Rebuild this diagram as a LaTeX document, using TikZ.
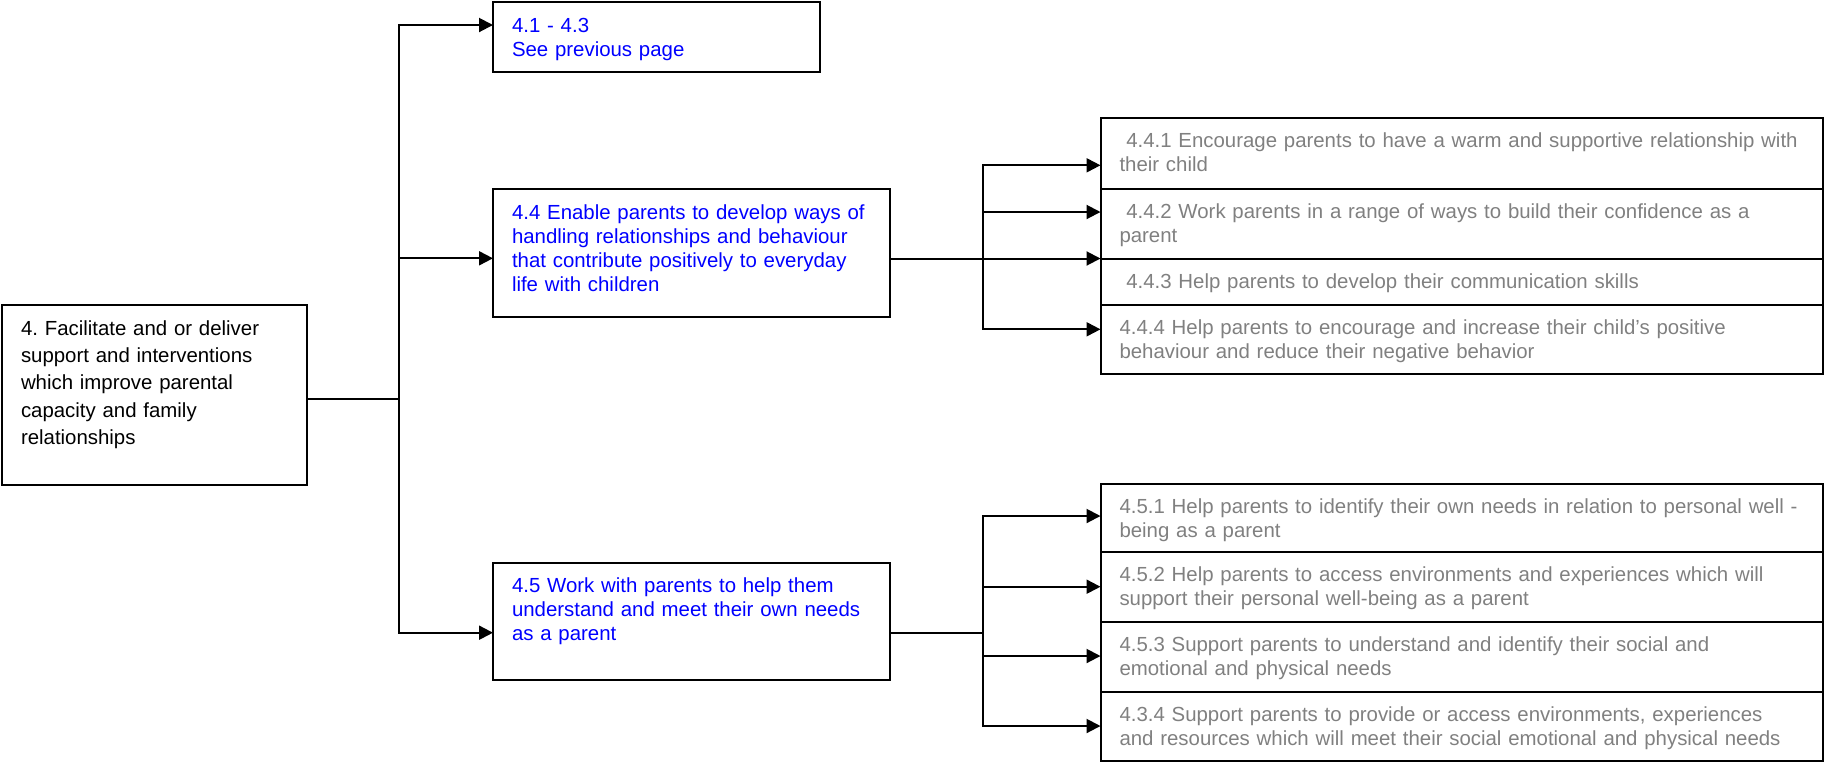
\documentclass[tikz,border=0pt]{standalone}
\usepackage{fontspec}
\setmainfont{Liberation Sans}
\usetikzlibrary{calc,arrows.meta}
\frenchspacing

\definecolor{aimblue}{RGB}{0,0,255}
\definecolor{taskgray}{RGB}{128,128,128}

\begin{document}
\begin{tikzpicture}[x=0.5pt, y=-0.5pt,
	box/.style={draw, line width=1pt, outer sep=0pt, anchor=north west, align=left,
		inner xsep=9.5pt, inner ysep=0pt, text height=15pt,
		font=\fontsize{10.2pt}{12pt}\selectfont,
		execute at begin node={\rightskip=-20pt plus 1fil\relax}},
	aimbox/.style={box, text=aimblue, text width=179.5pt},
	taskbox/.style={box, text=taskgray, text width=342.25pt, text height=14.75pt},
	link/.style={line width=1pt},
	arr/.style={line width=1pt, -{Triangle[length=7pt, width=7pt]}}
]

% parameters %{{{2

	\def\trunkx{399}
	\def\hubx{983}
	\def\taskx{1100.5}

	\useasboundingbox (0,0) rectangle (1824,762);

% main box %{{{2

	\node[box, text width=133.3pt, text depth=75pt,
		font=\fontsize{10.2pt}{13.7pt}\selectfont] (b4) at (2,305)
		{4. Facilitate and or deliver\\support and interventions\\which improve parental\\capacity and family\\relationships};

% aims %{{{2

	\node[aimbox, text width=144.5pt, text depth=20pt] (b41) at (493,2)
		{4.1 - 4.3\\See previous page};
	\node[aimbox, text depth=48.85pt] (b44) at (493,189)
		{4.4 Enable parents to develop ways of\\handling relationships and behaviour\\that contribute positively to everyday\\life with children};
	\node[aimbox, text depth=43.65pt] (b45) at (493,562.7)
		{4.5 Work with parents to help them\\understand and meet their own needs\\as a parent};

% tasks 4.4 %{{{2

	\node[taskbox, text depth=20.6pt] (b441) at (\taskx,118.3)
		{\ 4.4.1 Encourage parents to have a warm and supportive relationship with\\their child};
	\node[taskbox, text depth=20.1pt] (b442) at (b441.south west)
		{\ 4.4.2 Work parents in a range of ways to build their confidence as a\\parent};
	\node[taskbox, text depth=8.25pt] (b443) at (b442.south west)
		{\ 4.4.3 Help parents to develop their communication skills};
	\node[taskbox, text depth=19.9pt] (b444) at (b443.south west)
		{4.4.4 Help parents to encourage and increase their child’s positive\\behaviour and reduce their negative behavior};

% tasks 4.5 %{{{2

	\node[taskbox, text depth=19.4pt] (b451) at (\taskx,483.7)
		{4.5.1 Help parents to identify their own needs in relation to personal well -\\being as a parent};
	\node[taskbox, text depth=20.1pt] (b452) at (b451.south west)
		{4.5.2 Help parents to access environments and experiences which will\\support their personal well-being as a parent};
	\node[taskbox, text depth=20.4pt] (b453) at (b452.south west)
		{4.5.3 Support parents to understand and identify their social and\\emotional and physical needs};
	\node[taskbox, text depth=19.75pt] (b454) at (b453.south west)
		{4.3.4 Support parents to provide or access environments, experiences\\and resources which will meet their social emotional and physical needs};

% trunk %{{{2

	\coordinate (T0) at (\trunkx,399.3);
	\coordinate (T1) at (\trunkx,25);
	\coordinate (T2) at (\trunkx,258.3);
	\coordinate (T3) at (\trunkx,632.7);

	\draw[link] (T0 -| b4.east) -- (T0);
	\draw[arr] (T2) -- (T1) -- (T1 -| b41.west);
	\draw[arr] (T2) -- (T2 -| b44.west);
	\draw[arr] (T2) -- (T3) -- (T3 -| b45.west);

% hub 4.4 %{{{2

	\coordinate (J1) at (\hubx,165.3);
	\coordinate (J2) at (\hubx,212);
	\coordinate (J3) at (\hubx,258.5);
	\coordinate (J4) at (\hubx,329.3);

	\draw[arr] (J3 -| b44.east) -- (J3 -| b443.west);
	\draw[arr] (J3) -- (J1) -- (J1 -| b441.west);
	\draw[arr] (J2) -- (J2 -| b442.west);
	\draw[arr] (J3) -- (J4) -- (J4 -| b444.west);

% hub 4.5 %{{{2

	\coordinate (K0) at (\hubx,632.7);
	\coordinate (K1) at (\hubx,516);
	\coordinate (K2) at (\hubx,586.7);
	\coordinate (K3) at (\hubx,656);
	\coordinate (K4) at (\hubx,726);

	\draw[link] (K0 -| b45.east) -- (K0);
	\draw[arr] (K0) -- (K1) -- (K1 -| b451.west);
	\draw[arr] (K2) -- (K2 -| b452.west);
	\draw[arr] (K3) -- (K3 -| b453.west);
	\draw[arr] (K0) -- (K4) -- (K4 -| b454.west);

% closing %{{{2

\end{tikzpicture}
\end{document}
